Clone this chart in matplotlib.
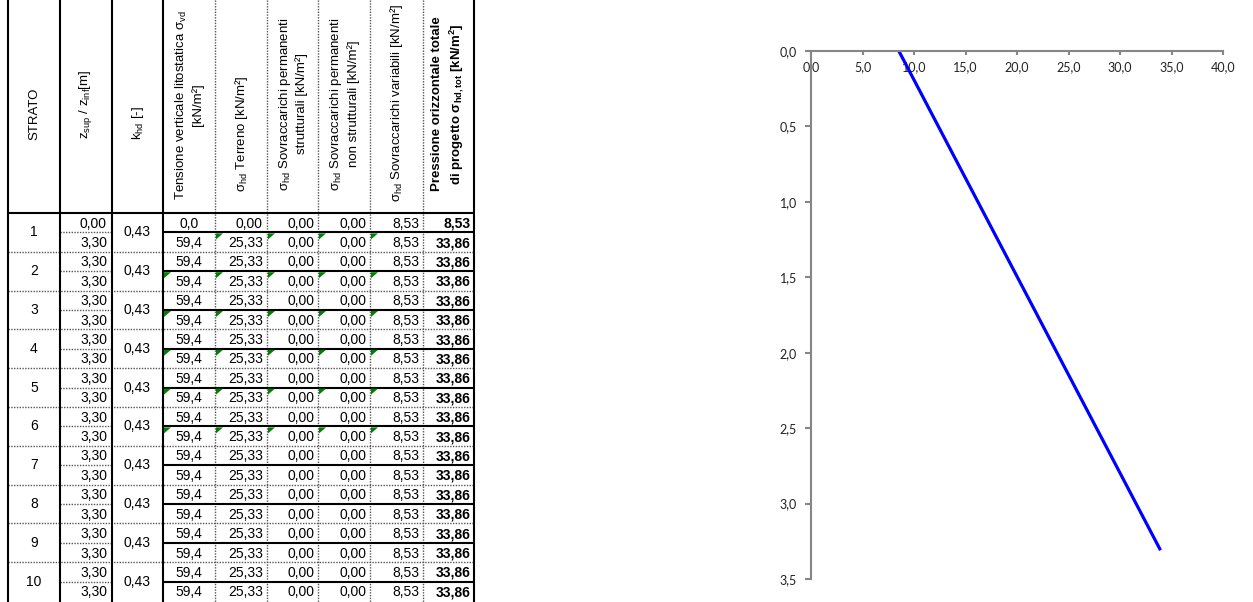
import matplotlib.pyplot as plt
from matplotlib.patches import Polygon

plt.rcParams['font.family'] = ['Liberation Sans', 'DejaVu Sans']
plt.rcParams['mathtext.fontset'] = 'custom'
plt.rcParams['mathtext.rm'] = 'Liberation Sans'
plt.rcParams['mathtext.it'] = 'Liberation Sans:italic'
plt.rcParams['mathtext.bf'] = 'Liberation Sans:bold'

# Dati della tabella (due righe per strato: sup / inf)
strati = [1, 2, 3, 4, 5, 6, 7, 8, 9, 10]
k_hd = [0.43, 0.43, 0.43, 0.43, 0.43, 0.43, 0.43, 0.43, 0.43, 0.43]
z = [0.00, 3.30] + [3.30] * 18
sigma_vd = [0.0, 59.4] + [59.4] * 18
sigma_terreno = [0.00, 25.33] + [25.33] * 18
sigma_perm_strutt = [0.00] * 20
sigma_perm_non_strutt = [0.00] * 20
sigma_variabili = [8.53] * 20
sigma_tot = [8.53, 33.86] + [33.86] * 18

# Celle con il triangolino verde di Excel (strato, colonna)
commenti = [(0, 4), (0, 5), (0, 6), (0, 7)] + \
           [(s, c) for s in range(1, 6) for c in range(3, 8)]

intestazioni = [
    'STRATO',
    'z$_{\\mathrm{sup}}$ / z$_{\\mathrm{inf}}$[m]',
    'k$_{\\mathrm{hd}}$ [-]',
    'Tensione verticale litostatica σ$_{\\mathrm{vd}}$\n[kN/m²]',
    'σ$_{\\mathrm{hd}}$ Terreno [kN/m²]',
    'σ$_{\\mathrm{hd}}$ Sovraccarichi permanenti\nstrutturali [kN/m²]',
    'σ$_{\\mathrm{hd}}$ Sovraccarichi permanenti\nnon strutturali [kN/m²]',
    'σ$_{\\mathrm{hd}}$ Sovraccarichi variabili [kN/m²]',
    'Pressione orizzontale totale\ndi progetto σ$_{\\mathbf{hd,tot}}$ [kN/m$^{\\mathbf{2}}$]',
]

# Dati del grafico
x_ticks = [0, 5, 10, 15, 20, 25, 30, 35, 40]
x_labels = ['0,0', '5,0', '10,0', '15,0', '20,0', '25,0', '30,0', '35,0', '40,0']
y_ticks = [0, 0.5, 1.0, 1.5, 2.0, 2.5, 3.0, 3.5]
y_labels = ['0,0', '0,5', '1,0', '1,5', '2,0', '2,5', '3,0', '3,5']


def fmt(v, dec=2):
    return f'{v:.{dec}f}'.replace('.', ',')


fig = plt.figure(figsize=(12.53, 6.02), dpi=100)

# --- tabella disegnata in coordinate pixel ---
tab = fig.add_axes([0, 0, 1, 1])
tab.set_xlim(0, 1253)
tab.set_ylim(602, 0)
tab.axis('off')

bordi = [8, 60, 112, 163, 215, 267, 318, 370, 423, 474]
y_head = 213
h_strato = 38.8
fs = 10
spesso = dict(color='black', lw=1.5, solid_capstyle='butt', zorder=3)
punti = dict(color='#555555', lw=1, linestyle=(0, (1, 1)), zorder=2)

for i, xb in enumerate(bordi):
    if i in (0, 1, 2, 3, 9):
        tab.plot([xb, xb], [0, 602], **spesso)
    else:
        tab.plot([xb, xb], [0, 602], **punti)
tab.plot([bordi[0], bordi[-1]], [y_head, y_head], **spesso)

# intestazioni ruotate
y_centri = [114, 104, 123, 105, 134, 104, 104, 103, 104]
for c, testo in enumerate(intestazioni):
    xc = (bordi[c] + bordi[c + 1]) / 2
    peso = 'bold' if c == 8 else 'normal'
    tab.text(xc, y_centri[c], testo, rotation=90, ha='center', va='center',
             multialignment='center', fontsize=9.5, fontweight=peso,
             linespacing=1.25)

for s, num in enumerate(strati):
    top = y_head + s * h_strato
    mid = top + h_strato / 2
    bot = top + h_strato
    if s < len(strati) - 1:
        tab.plot([bordi[0], bordi[-1]], [bot, bot], **punti)
    tab.plot([bordi[1], bordi[2]], [mid, mid], **punti)
    tab.plot([bordi[3], bordi[-1]], [mid, mid], **spesso)

    tab.text((bordi[0] + bordi[1]) / 2, top + h_strato / 2, str(num),
             ha='center', va='center', fontsize=fs)
    tab.text((bordi[2] + bordi[3]) / 2, top + h_strato / 2, fmt(k_hd[s]),
             ha='center', va='center', fontsize=fs)

    for r in range(2):
        i = 2 * s + r
        yc = top + r * h_strato / 2 + h_strato / 4 + 1
        tab.text(bordi[2] - 5, yc, fmt(z[i]), ha='right', va='center', fontsize=fs)
        tab.text((bordi[3] + bordi[4]) / 2, yc, fmt(sigma_vd[i], 1),
                 ha='center', va='center', fontsize=fs)
        valori = [sigma_terreno[i], sigma_perm_strutt[i],
                  sigma_perm_non_strutt[i], sigma_variabili[i]]
        for j, v in enumerate(valori):
            tab.text(bordi[5 + j] - 4, yc, fmt(v), ha='right', va='center', fontsize=fs)
        tab.text(bordi[9] - 3, yc, fmt(sigma_tot[i]), ha='right', va='center',
                 fontsize=fs, fontweight='bold')

for s, c in commenti:
    x0 = bordi[c] + 1
    y0 = y_head + s * h_strato + h_strato / 2 + 1
    tab.add_patch(Polygon([(x0, y0), (x0 + 7, y0), (x0, y0 + 6)],
                          closed=True, color='#008000', lw=0, zorder=4))

# --- grafico pressione / profondita ---
ax = fig.add_axes([811 / 1253, 1 - 579 / 602, (1223 - 811) / 1253, (579 - 51) / 602])
ax.plot(sigma_tot, z, color='#0000ff', lw=2.3)
ax.set_xlim(0, 40)
ax.set_ylim(3.5, 0)
ax.spines['bottom'].set_position(('data', 0))
ax.spines['top'].set_visible(False)
ax.spines['right'].set_visible(False)
for sp in ('bottom', 'left'):
    ax.spines[sp].set_color('#868686')
    ax.spines[sp].set_linewidth(1.5)
ax.set_xticks(x_ticks)
ax.set_xticklabels(x_labels)
ax.set_yticks(y_ticks)
ax.set_yticklabels(y_labels)
ax.tick_params(axis='x', direction='out', length=3, width=1.5, color='#868686',
               pad=4.5, labelsize=9, labelcolor='#222222')
ax.tick_params(axis='y', direction='out', length=4, width=1.5, color='#868686',
               pad=6, labelsize=9, labelcolor='#222222')
for lab in ax.get_xticklabels() + ax.get_yticklabels():
    lab.set_family(['Lato', 'DejaVu Sans'])
ax.patch.set_alpha(0)

plt.savefig('out.png', dpi=100)
